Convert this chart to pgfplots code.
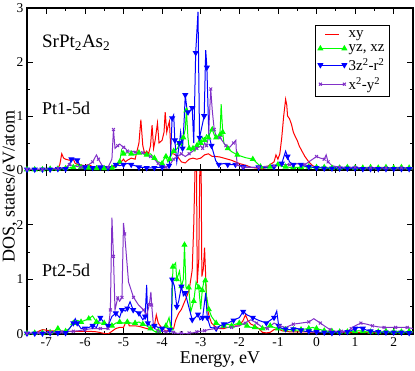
\documentclass[border=0pt]{standalone}
\usepackage{fontspec}
\setmainfont{Liberation Serif}
\usepackage{pgfplots}
\pgfplotsset{compat=1.18}
\definecolor{dosred}{RGB}{255,0,0}
\definecolor{dosgreen}{RGB}{0,255,0}
\definecolor{dosblue}{RGB}{0,0,255}
\definecolor{dosviolet}{RGB}{130,50,200}

\pgfplotsset{
  dospanel/.style={
    scale only axis, width=386pt,
    xmin=-7.5, xmax=2.5, ymin=0, ymax=3,
    xtick={-7,...,2}, minor x tick num=1, minor y tick num=1,
    tick align=inside, major tick length=6pt, minor tick length=3pt,
    axis line style={line width=1.2pt},
    every tick/.style={line width=0.8pt, black},
    tick label style={font=\fontsize{13.5}{16}\selectfont},
    /pgf/number format/assume math mode=true,
    legend image code/.code={\draw[#1, mark repeat=1] plot coordinates {(0pt,0pt) (24pt,0pt)};},
  },
  xy/.style={dosred, line width=1pt, mark=none},
  yz/.style={dosgreen, line width=1pt, mark=triangle*, mark size=2.6pt, mark repeat=2},
  zz/.style={dosblue, line width=1pt, mark=triangle*, mark size=2.6pt, mark repeat=2,
    every mark/.append style={rotate=180}},
  xx/.style={dosviolet, line width=1pt, mark=x, mark size=2pt, mark repeat=2},
}

\begin{document}
\begin{tikzpicture}
% lower panel: Pt2
\begin{axis}[dospanel, name=bot, height=164pt, at={(0,0)}, anchor=south west,
  ytick={0,1,2}]
\addplot[xy] coordinates {(-7.5,0.01)(-7.3,0.01)(-7.2,0.05)(-7.1,0.08)(-6.9,0.06)(-6.7,0.05)(-6.5,0.05)(-6.3,0.05)(-6.1,0.05)(-5.9,0.05)(-5.7,0.04)(-5.5,0.01)(-5.4,0.0)(-5.3,0.05)(-5.2,0.1)(-5.1,0.12)(-5.0,0.12)(-4.95,0.2)(-4.9,0.25)(-4.85,0.15)(-4.7,0.15)(-4.6,0.14)(-4.5,0.12)(-4.4,0.1)(-4.3,0.08)(-4.2,0.15)(-4.15,0.35)(-4.1,0.2)(-4.0,0.1)(-3.9,0.05)(-3.8,0.08)(-3.7,0.1)(-3.65,0.25)(-3.57,0.38)(-3.5,0.45)(-3.4,0.62)(-3.3,0.8)(-3.22,1.17)(-3.18,2.0)(-3.14,3.2)(-3.11,3.2)(-3.09,0.93)(-3.05,1.36)(-3.02,3.2)(-2.99,3.2)(-2.97,1.05)(-2.93,1.2)(-2.9,1.58)(-2.84,0.5)(-2.78,0.32)(-2.72,0.2)(-2.6,0.12)(-2.5,0.1)(-2.4,0.1)(-2.3,0.12)(-2.2,0.12)(-2.1,0.15)(-2.0,0.15)(-1.9,0.25)(-1.84,0.35)(-1.78,0.25)(-1.7,0.18)(-1.6,0.15)(-1.5,0.1)(-1.4,0.03)(-1.3,0.02)(-1.2,0.03)(-1.1,0.08)(-1.0,0.1)(-0.9,0.06)(-0.7,0.04)(-0.5,0.04)(-0.3,0.04)(0.0,0.03)(0.3,0.03)(0.6,0.03)(0.9,0.03)(1.2,0.03)(1.5,0.03)(1.8,0.03)(2.1,0.03)(2.5,0.03)};
\addplot[yz] coordinates {(-7.5,0.01)(-7.4,0.01)(-7.3,0.02)(-7.2,0.02)(-7.1,0.02)(-7.0,0.03)(-6.9,0.03)(-6.8,0.05)(-6.7,0.1)(-6.6,0.05)(-6.5,0.05)(-6.4,0.1)(-6.3,0.2)(-6.2,0.25)(-6.1,0.22)(-6.0,0.25)(-5.9,0.28)(-5.8,0.33)(-5.7,0.22)(-5.6,0.2)(-5.5,0.2)(-5.4,0.13)(-5.3,0.15)(-5.2,0.2)(-5.1,0.22)(-5.0,0.2)(-4.9,0.22)(-4.8,0.2)(-4.7,0.2)(-4.6,0.22)(-4.5,0.18)(-4.4,0.15)(-4.3,0.1)(-4.2,0.05)(-4.1,0.05)(-4.0,0.08)(-3.9,0.15)(-3.82,0.3)(-3.77,0.1)(-3.74,0.6)(-3.72,1.23)(-3.65,1.3)(-3.62,1.0)(-3.55,1.15)(-3.5,0.87)(-3.45,1.0)(-3.42,1.63)(-3.38,0.85)(-3.31,0.85)(-3.26,0.4)(-3.18,0.6)(-3.12,0.95)(-3.05,0.85)(-3.0,0.45)(-2.96,0.8)(-2.92,0.95)(-2.88,0.98)(-2.85,0.7)(-2.79,0.45)(-2.72,0.32)(-2.6,0.2)(-2.5,0.16)(-2.4,0.15)(-2.3,0.18)(-2.2,0.15)(-2.1,0.18)(-2.0,0.2)(-1.9,0.18)(-1.8,0.15)(-1.7,0.12)(-1.6,0.12)(-1.5,0.1)(-1.4,0.1)(-1.3,0.12)(-1.2,0.15)(-1.1,0.12)(-1.0,0.1)(-0.9,0.09)(-0.8,0.08)(-0.7,0.08)(-0.6,0.08)(-0.5,0.07)(-0.4,0.08)(-0.3,0.09)(-0.2,0.1)(-0.1,0.12)(0.0,0.1)(0.1,0.08)(0.2,0.06)(0.3,0.05)(0.4,0.05)(0.5,0.04)(0.6,0.04)(0.7,0.05)(0.8,0.04)(0.9,0.05)(1.0,0.05)(1.1,0.06)(1.2,0.05)(1.3,0.04)(1.4,0.04)(1.5,0.05)(1.6,0.04)(1.7,0.04)(1.8,0.05)(1.9,0.04)(2.0,0.04)(2.1,0.05)(2.2,0.04)(2.3,0.04)(2.4,0.05)(2.5,0.04)};
\addplot[zz] coordinates {(-7.5,0.01)(-7.4,0.01)(-7.3,0.01)(-7.2,0.01)(-7.1,0.01)(-7.0,0.02)(-6.9,0.02)(-6.8,0.02)(-6.7,0.02)(-6.6,0.02)(-6.5,0.02)(-6.4,0.1)(-6.3,0.2)(-6.25,0.28)(-6.2,0.2)(-6.1,0.1)(-6.0,0.1)(-5.9,0.12)(-5.8,0.15)(-5.7,0.12)(-5.6,0.3)(-5.5,0.2)(-5.4,0.15)(-5.3,0.32)(-5.2,0.38)(-5.1,0.3)(-5.04,0.44)(-4.95,0.42)(-4.9,0.47)(-4.83,0.59)(-4.75,0.44)(-4.65,0.4)(-4.6,0.38)(-4.5,0.26)(-4.44,0.32)(-4.4,0.9)(-4.37,0.2)(-4.3,0.15)(-4.2,0.15)(-4.1,0.12)(-4.0,0.1)(-3.9,0.12)(-3.8,0.08)(-3.76,0.1)(-3.74,1.0)(-3.68,0.87)(-3.62,0.5)(-3.57,0.6)(-3.5,0.87)(-3.45,0.7)(-3.4,0.75)(-3.31,0.5)(-3.22,0.26)(-3.14,0.3)(-3.07,0.36)(-3.02,0.26)(-2.95,0.3)(-2.87,0.75)(-2.83,0.3)(-2.75,0.12)(-2.6,0.1)(-2.5,0.15)(-2.4,0.18)(-2.3,0.2)(-2.15,0.25)(-2.0,0.3)(-1.9,0.41)(-1.8,0.35)(-1.65,0.3)(-1.5,0.25)(-1.3,0.2)(-1.2,0.25)(-1.1,0.3)(-1.03,0.42)(-0.98,0.15)(-0.9,0.1)(-0.8,0.09)(-0.7,0.08)(-0.6,0.09)(-0.5,0.1)(-0.4,0.07)(-0.3,0.05)(-0.2,0.05)(-0.1,0.04)(0.0,0.04)(0.1,0.03)(0.2,0.03)(0.3,0.03)(0.4,0.02)(0.5,0.03)(0.6,0.03)(0.7,0.04)(0.8,0.04)(0.9,0.06)(1.0,0.1)(1.1,0.12)(1.2,0.1)(1.3,0.07)(1.4,0.05)(1.5,0.04)(1.6,0.04)(1.7,0.03)(1.8,0.03)(1.9,0.03)(2.0,0.03)(2.1,0.03)(2.2,0.03)(2.3,0.03)(2.4,0.02)(2.5,0.02)};
\addplot[xx] coordinates {(-7.5,0.01)(-7.35,0.02)(-7.2,0.02)(-7.05,0.03)(-6.9,0.03)(-6.75,0.03)(-6.6,0.04)(-6.45,0.05)(-6.3,0.05)(-6.15,0.06)(-6.0,0.08)(-5.8,0.1)(-5.6,0.1)(-5.5,0.1)(-5.4,0.1)(-5.36,0.3)(-5.34,0.44)(-5.3,2.13)(-5.26,1.42)(-5.22,0.44)(-5.15,0.66)(-5.1,0.6)(-5.04,0.67)(-5.0,2.03)(-4.97,1.83)(-4.87,0.95)(-4.74,0.67)(-4.61,0.53)(-4.48,0.44)(-4.4,0.34)(-4.33,0.54)(-4.29,0.77)(-4.27,0.53)(-4.22,0.12)(-4.1,0.05)(-4.0,0.05)(-3.9,0.04)(-3.8,0.05)(-3.7,0.03)(-3.6,0.01)(-3.5,0.02)(-3.4,0.0)(-3.3,0.02)(-3.2,0.02)(-3.1,0.04)(-3.0,0.05)(-2.9,0.06)(-2.8,0.08)(-2.6,0.1)(-2.4,0.12)(-2.2,0.12)(-2.0,0.15)(-1.85,0.2)(-1.7,0.26)(-1.55,0.2)(-1.4,0.12)(-1.27,0.1)(-1.1,0.2)(-0.95,0.15)(-0.8,0.12)(-0.6,0.18)(-0.4,0.2)(-0.2,0.22)(-0.07,0.28)(0.1,0.2)(0.2,0.15)(0.35,0.08)(0.5,0.05)(0.65,0.05)(0.8,0.05)(0.9,0.1)(1.0,0.15)(1.15,0.2)(1.3,0.18)(1.45,0.15)(1.6,0.13)(1.75,0.12)(1.9,0.12)(2.05,0.12)(2.2,0.12)(2.35,0.12)(2.5,0.1)};
\node[anchor=west, font=\fontsize{18}{21}\selectfont] at (axis cs:-7.2,1.17) {Pt2-5d};
\end{axis}
% upper panel: Pt1
\begin{axis}[dospanel, name=top, height=162pt, at={(0,164pt)}, anchor=south west,
  ytick={0,1,2}, xticklabels={},
  legend style={at={(0.94,0.895)}, anchor=north east, draw=black, line width=0.8pt,
    font=\fontsize{15}{17}\selectfont, inner xsep=3pt, inner ysep=3pt, row sep=1.5pt,
    cells={anchor=west}}]
\addplot[xy, legend image code/.code={\draw[dosred, line width=1pt] (5pt,0pt) -- (19pt,0pt);}] coordinates {(-7.5,0.01)(-7.3,0.01)(-7.1,0.01)(-6.9,0.01)(-6.7,0.02)(-6.65,0.1)(-6.6,0.3)(-6.55,0.22)(-6.5,0.2)(-6.4,0.18)(-6.3,0.2)(-6.25,0.12)(-6.15,0.1)(-6.0,0.08)(-5.9,0.1)(-5.8,0.06)(-5.7,0.05)(-5.6,0.05)(-5.5,0.04)(-5.4,0.03)(-5.3,0.05)(-5.2,0.08)(-5.1,0.12)(-5.0,0.2)(-4.95,0.15)(-4.9,0.18)(-4.8,0.22)(-4.7,0.2)(-4.65,0.35)(-4.6,0.5)(-4.55,0.93)(-4.5,0.45)(-4.45,0.3)(-4.4,0.35)(-4.35,0.3)(-4.3,0.45)(-4.26,0.83)(-4.22,0.4)(-4.18,0.55)(-4.12,0.87)(-4.08,0.5)(-4.0,0.55)(-3.95,0.7)(-3.92,1.07)(-3.88,0.7)(-3.85,0.8)(-3.81,0.9)(-3.77,0.3)(-3.7,0.3)(-3.6,0.25)(-3.5,0.15)(-3.4,0.13)(-3.3,0.2)(-3.2,0.22)(-3.1,0.2)(-3.0,0.22)(-2.9,0.28)(-2.8,0.3)(-2.7,0.25)(-2.6,0.25)(-2.5,0.24)(-2.4,0.22)(-2.3,0.2)(-2.2,0.18)(-2.1,0.15)(-2.0,0.12)(-1.9,0.1)(-1.8,0.08)(-1.7,0.05)(-1.6,0.04)(-1.5,0.03)(-1.4,0.02)(-1.3,0.05)(-1.2,0.1)(-1.1,0.15)(-1.05,0.28)(-1.0,0.2)(-0.95,0.3)(-0.9,0.6)(-0.85,1.0)(-0.8,1.31)(-0.77,1.2)(-0.75,1.0)(-0.7,0.95)(-0.65,0.85)(-0.6,0.7)(-0.55,0.62)(-0.5,0.55)(-0.45,0.45)(-0.4,0.38)(-0.3,0.25)(-0.2,0.15)(-0.1,0.08)(0.0,0.05)(0.2,0.04)(0.4,0.03)(0.6,0.03)(0.8,0.03)(1.0,0.03)(1.2,0.03)(1.4,0.03)(1.6,0.03)(1.8,0.02)(2.0,0.02)(2.2,0.02)(2.5,0.02)};
\addplot[yz] coordinates {(-7.5,0.01)(-7.4,0.01)(-7.3,0.01)(-7.2,0.01)(-7.1,0.01)(-7.0,0.02)(-6.9,0.02)(-6.8,0.02)(-6.7,0.02)(-6.6,0.03)(-6.5,0.03)(-6.4,0.04)(-6.3,0.05)(-6.2,0.1)(-6.1,0.05)(-6.0,0.04)(-5.9,0.04)(-5.8,0.03)(-5.7,0.03)(-5.6,0.03)(-5.5,0.03)(-5.4,0.03)(-5.3,0.04)(-5.2,0.05)(-5.1,0.15)(-5.05,0.37)(-5.0,0.3)(-4.9,0.32)(-4.8,0.3)(-4.7,0.28)(-4.6,0.32)(-4.5,0.3)(-4.4,0.28)(-4.3,0.3)(-4.2,0.22)(-4.1,0.15)(-4.0,0.12)(-3.95,0.2)(-3.9,0.25)(-3.85,0.15)(-3.8,0.2)(-3.75,0.3)(-3.7,0.35)(-3.6,0.4)(-3.55,0.5)(-3.5,0.45)(-3.45,0.6)(-3.4,0.75)(-3.37,1.1)(-3.33,0.6)(-3.3,0.4)(-3.25,0.35)(-3.2,0.4)(-3.15,0.35)(-3.1,0.45)(-3.05,0.55)(-3.0,0.5)(-2.95,0.6)(-2.9,0.55)(-2.85,0.65)(-2.8,0.6)(-2.75,0.7)(-2.7,0.75)(-2.65,0.65)(-2.6,0.6)(-2.55,0.62)(-2.5,0.65)(-2.47,1.22)(-2.43,0.7)(-2.4,0.5)(-2.3,0.4)(-2.2,0.34)(-2.05,0.28)(-1.85,0.23)(-1.65,0.2)(-1.5,0.1)(-1.45,0.06)(-1.3,0.05)(-1.2,0.06)(-1.1,0.08)(-1.0,0.1)(-0.9,0.07)(-0.8,0.06)(-0.7,0.05)(-0.6,0.05)(-0.5,0.05)(-0.4,0.05)(-0.3,0.06)(-0.2,0.06)(-0.1,0.05)(0.0,0.05)(0.1,0.05)(0.2,0.05)(0.3,0.04)(0.4,0.04)(0.5,0.04)(0.6,0.04)(0.7,0.05)(0.8,0.05)(0.9,0.04)(1.0,0.04)(1.1,0.04)(1.2,0.04)(1.3,0.05)(1.4,0.05)(1.5,0.04)(1.6,0.04)(1.7,0.05)(1.8,0.05)(1.9,0.04)(2.0,0.04)(2.1,0.05)(2.2,0.05)(2.3,0.04)(2.4,0.04)(2.5,0.04)};
\addplot[zz] coordinates {(-7.5,0.01)(-7.4,0.01)(-7.3,0.01)(-7.2,0.01)(-7.1,0.01)(-7.0,0.01)(-6.9,0.01)(-6.8,0.02)(-6.7,0.02)(-6.6,0.02)(-6.5,0.02)(-6.4,0.1)(-6.35,0.2)(-6.25,0.2)(-6.2,0.18)(-6.1,0.05)(-6.0,0.05)(-5.9,0.04)(-5.8,0.04)(-5.7,0.05)(-5.6,0.05)(-5.5,0.04)(-5.4,0.04)(-5.3,0.06)(-5.2,0.1)(-5.1,0.08)(-5.0,0.1)(-4.9,0.12)(-4.8,0.1)(-4.7,0.08)(-4.6,0.05)(-4.5,0.05)(-4.4,0.04)(-4.3,0.04)(-4.2,0.04)(-4.1,0.05)(-4.0,0.05)(-3.9,0.05)(-3.82,0.08)(-3.78,0.3)(-3.74,0.96)(-3.7,1.02)(-3.67,0.55)(-3.62,0.15)(-3.55,0.5)(-3.52,0.7)(-3.47,0.4)(-3.43,0.9)(-3.4,1.39)(-3.36,1.15)(-3.33,1.07)(-3.27,1.1)(-3.22,1.15)(-3.18,0.5)(-3.13,2.17)(-3.07,2.93)(-3.03,0.6)(-2.97,0.8)(-2.91,1.0)(-2.87,2.22)(-2.84,1.9)(-2.79,0.65)(-2.72,0.45)(-2.61,0.17)(-2.53,0.1)(-2.4,0.12)(-2.3,0.1)(-2.2,0.1)(-2.1,0.1)(-2.0,0.08)(-1.9,0.06)(-1.7,0.05)(-1.5,0.05)(-1.3,0.04)(-1.1,0.06)(-1.0,0.1)(-0.9,0.12)(-0.8,0.35)(-0.75,0.25)(-0.7,0.15)(-0.6,0.1)(-0.5,0.12)(-0.4,0.1)(-0.3,0.07)(-0.2,0.06)(-0.1,0.05)(0.0,0.04)(0.1,0.04)(0.2,0.03)(0.3,0.03)(0.4,0.03)(0.5,0.03)(0.6,0.03)(0.7,0.03)(0.8,0.03)(0.9,0.03)(1.0,0.03)(1.1,0.03)(1.2,0.02)(1.3,0.02)(1.4,0.02)(1.5,0.02)(1.6,0.02)(1.7,0.02)(1.8,0.02)(1.9,0.02)(2.0,0.02)(2.1,0.02)(2.2,0.02)(2.3,0.02)(2.4,0.02)(2.5,0.02)};
\addplot[xx] coordinates {(-7.5,0.01)(-7.3,0.01)(-7.1,0.01)(-6.9,0.02)(-6.7,0.03)(-6.5,0.05)(-6.4,0.1)(-6.3,0.08)(-6.1,0.05)(-5.9,0.1)(-5.8,0.15)(-5.7,0.28)(-5.65,0.2)(-5.55,0.08)(-5.4,0.05)(-5.3,0.2)(-5.26,0.75)(-5.22,0.4)(-5.15,0.45)(-5.1,0.48)(-5.0,0.42)(-4.95,0.4)(-4.9,0.35)(-4.8,0.35)(-4.7,0.33)(-4.6,0.3)(-4.5,0.32)(-4.4,0.28)(-4.3,0.25)(-4.2,0.2)(-4.1,0.12)(-4.0,0.08)(-3.9,0.05)(-3.8,0.1)(-3.7,0.2)(-3.6,0.25)(-3.5,0.3)(-3.4,0.25)(-3.3,0.3)(-3.2,0.35)(-3.1,0.4)(-3.0,0.45)(-2.95,0.4)(-2.9,0.5)(-2.85,0.45)(-2.8,0.6)(-2.74,1.5)(-2.7,1.1)(-2.65,0.75)(-2.6,0.62)(-2.5,0.6)(-2.4,0.5)(-2.35,0.45)(-2.25,0.42)(-2.15,0.5)(-2.09,0.55)(-2.06,0.1)(-2.0,0.08)(-1.9,0.05)(-1.7,0.05)(-1.5,0.05)(-1.3,0.07)(-1.1,0.08)(-0.9,0.1)(-0.7,0.1)(-0.5,0.12)(-0.3,0.1)(-0.1,0.2)(0.0,0.25)(0.1,0.22)(0.2,0.2)(0.25,0.28)(0.3,0.15)(0.4,0.08)(0.6,0.05)(0.8,0.05)(1.0,0.05)(1.2,0.04)(1.4,0.04)(1.6,0.05)(1.8,0.04)(2.0,0.04)(2.2,0.04)(2.5,0.04)};
\legend{xy, {yz, xz}, 3z\textsuperscript{2}-r\textsuperscript{2}, x\textsuperscript{2}-y\textsuperscript{2}}
\node[anchor=west, font=\fontsize{19}{22}\selectfont] at (axis cs:-7.2,2.35) {SrPt\textsubscript{2}As\textsubscript{2}};
\node[anchor=west, font=\fontsize{18}{21}\selectfont] at (axis cs:-7.2,1.15) {Pt1-5d};
\end{axis}
% label of the top tick of the upper panel
\node[anchor=east, inner sep=0pt, font=\fontsize{13.5}{16}\selectfont] at (-3.5pt,326pt) {3};
\node[rotate=90, font=\fontsize{18}{21}\selectfont] at (-17pt,147pt) {DOS, states/eV/atom};
\node[font=\fontsize{18}{21}\selectfont] at (193pt,-26pt) {Energy, eV};
\pgfresetboundingbox
\path (-27pt,-37pt) rectangle (388pt,334pt);
\end{tikzpicture}
\end{document}
